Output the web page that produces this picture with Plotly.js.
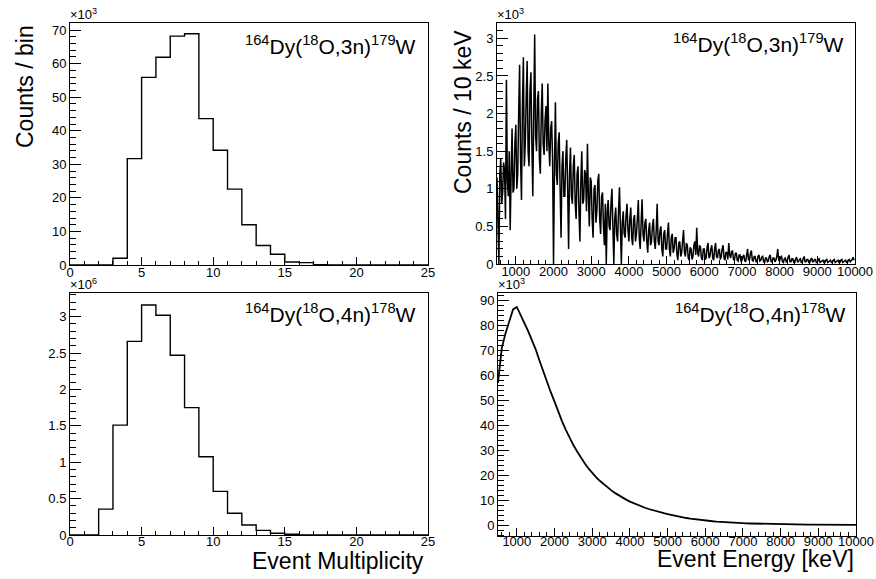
<!DOCTYPE html>
<html><head><meta charset="utf-8">
<script src="https://cdn.plot.ly/plotly-3.0.1.min.js"></script>
<style>html,body{margin:0;padding:0;background:#fff;}#chart{width:876px;height:579px;}</style>
</head><body><div id="chart"></div>
<script>
// ---- Data ----
// Event multiplicity histograms (bin i covers [i, i+1])
const mult3nCounts = [0,0,0,2.0,31.7,55.9,61.9,68.2,68.9,43.6,34.2,22.6,12.0,5.8,3.2,0.9,0.7,0.1,0.05,0,0,0,0,0,0]; // x10^3
const mult4nCounts = [0,0,0.355,1.51,2.66,3.16,3.02,2.47,1.75,1.076,0.60,0.298,0.137,0.064,0.025,0.01,0,0,0,0,0,0,0,0,0]; // x10^6

// Event energy spectra
const energy3nStart = 500, energy3nStep = 25; // keV
const energy3nCounts = [ // x10^3
 1.15,0.6,0.0,1.2,1.4,0.8,0.95,1.35,1.25,0.6,
 2.45,1.1,0.9,1.5,0.45,1.2,1.8,0.95,1.0,1.6,
 1.85,1.0,1.2,2.0,2.65,1.4,0.85,2.1,2.75,1.3,
 1.6,2.2,2.7,1.5,1.3,2.3,2.55,1.6,0.9,2.0,
 3.05,1.7,1.5,2.2,2.3,1.4,1.2,2.0,2.4,1.6,
 1.45,1.9,2.1,1.5,2.4,1.6,1.3,1.8,1.9,1.4,
 0.0,1.3,2.15,1.2,1.05,1.6,1.75,1.0,0.35,1.3,
 1.5,0.9,0.9,1.4,1.65,1.0,0.2,1.2,1.55,0.9,
 0.8,1.3,1.45,0.8,0.6,1.2,1.3,0.7,0.3,1.1,
 1.5,0.8,0.85,1.25,1.2,0.7,1.6,0.9,0.5,1.15,
 1.1,0.6,0.35,1.0,1.05,0.55,0.7,1.1,1.2,0.6,
 0.4,0.9,0.95,0.5,0.25,0.8,0.0,0.7,0.85,0.5,
 0.45,0.8,1.0,0.5,0.0,0.6,0.75,0.4,0.3,0.7,
 1.02,0.5,0.0,0.55,0.7,0.4,0.35,0.65,0.8,0.45,
 0.3,0.6,0.75,0.35,0.25,0.6,0.65,0.3,0.4,0.6,
 0.85,0.35,0.2,0.55,0.86,0.4,0.3,0.55,0.6,0.3,
 0.15,0.45,0.55,0.25,0.3,0.5,0.6,0.3,0.2,0.45,
 0.8,0.3,0.25,0.45,0.5,0.2,0.1,0.4,0.45,0.2,
 0.2,0.4,0.55,0.2,0.1,0.35,0.4,0.15,0.2,0.35,
 0.35,0.12,0.05,0.28,0.3,0.1,0.15,0.3,0.45,0.15,
 0.1,0.28,0.25,0.08,0.05,0.22,0.2,0.06,0.1,0.25,
 0.3,0.12,0.48,0.15,0.1,0.25,0.22,0.08,0.05,0.2,
 0.2,0.06,0.08,0.22,0.28,0.08,0.1,0.2,0.25,0.08,
 0.05,0.2,0.28,0.1,0.08,0.18,0.2,0.06,0.1,0.2,
 0.25,0.08,0.05,0.16,0.15,0.06,0.28,0.12,0.08,0.16,
 0.18,0.06,0.05,0.14,0.15,0.05,0.04,0.12,0.12,0.04,
 0.05,0.1,0.12,0.04,0.03,0.12,0.2,0.05,0.06,0.14,
 0.18,0.05,0.04,0.1,0.1,0.03,0.03,0.1,0.12,0.04,
 0.05,0.09,0.1,0.03,0.02,0.08,0.08,0.03,0.04,0.1,
 0.12,0.03,0.03,0.08,0.08,0.03,0.05,0.1,0.2,0.05,
 0.04,0.09,0.1,0.03,0.02,0.07,0.08,0.03,0.04,0.09,
 0.12,0.03,0.03,0.07,0.07,0.02,0.02,0.07,0.09,0.03,
 0.03,0.06,0.07,0.02,0.02,0.07,0.1,0.03,0.03,0.06,
 0.06,0.02,0.02,0.06,0.08,0.03,0.03,0.06,0.06,0.02,
 0.02,0.06,0.07,0.02,0.03,0.05,0.05,0.02,0.02,0.05,
 0.06,0.02,0.03,0.05,0.05,0.02,0.02,0.05,0.06,0.02,
 0.03,0.05,0.05,0.02,0.02,0.05,0.06,0.02,0.03,0.05,
 0.05,0.02,0.02,0.05,0.06,0.03,0.04,0.06,0.09,0.05];

const energy4nStart = 500, energy4nStep = 100; // keV
const energy4nCounts = [ // x10^3
 57,71,77,81.5,86.5,87.5,84,81,77.8,74.3,
 70.5,66,61.6,57,53.3,49.5,45.4,41.6,38.2,35.0,
 32.1,29.5,27.0,24.8,22.7,20.8,19.2,17.75,16.4,15.15,
 14.0,12.9,11.9,11.0,10.2,9.4,8.7,8.07,7.48,6.93,
 6.43,5.96,5.52,5.12,4.75,4.4,4.03,3.68,3.37,3.08,
 2.82,2.58,2.36,2.16,1.98,1.81,1.66,1.52,1.39,1.27,
 1.16,1.06,0.97,0.89,0.81,0.74,0.68,0.62,0.57,0.52,
 0.48,0.44,0.40,0.37,0.34,0.31,0.28,0.26,0.24,0.22,
 0.2,0.18,0.17,0.155,0.14,0.13,0.12,0.11,0.1,0.09,
 0.085,0.08,0.075,0.07,0.065,0.06];

const multTickVals = [0,5,10,15,20,25];
const multTickText = ['0','5','10','15','20','25'];
const energyTickVals = [1000,2000,3000,4000,5000,6000,7000,8000,9000,10000];
const energyTickText = ['1000','2000','3000','4000','5000','6000','7000','8000','9000','10000'];
const y3nMultTickVals = [0,10,20,30,40,50,60,70];
const y3nMultTickText = ['0','10','20','30','40','50','60','70'];
const y4nMultTickVals = [0,0.5,1,1.5,2,2.5,3];
const y4nMultTickText = ['0','0.5','1','1.5','2','2.5','3'];
const y3nEnTickVals = [0,0.5,1,1.5,2,2.5,3];
const y3nEnTickText = ['0','0.5','1','1.5','2','2.5','3'];
const y4nEnTickVals = [0,10,20,30,40,50,60,70,80,90];
const y4nEnTickText = ['0','10','20','30','40','50','60','70','80','90'];

const label3n = '<sup>164</sup>Dy(<sup>18</sup>O,3n)<sup>179</sup>W';
const label4n = '<sup>164</sup>Dy(<sup>18</sup>O,4n)<sup>178</sup>W';

// ---- Build traces ----
function stepTrace(vals, xa, ya){
  const x = vals.map((_,i)=>i).concat([vals.length]);
  const y = vals.concat([vals[vals.length-1]]);
  return {x, y, xaxis:xa, yaxis:ya, type:'scatter', mode:'lines',
    line:{shape:'hv', color:'#000', width:1.4}, hoverinfo:'skip', showlegend:false};
}
function specTrace(vals, start, step, xa, ya, w){
  return {x: vals.map((_,i)=>start+i*step), y: vals, xaxis:xa, yaxis:ya,
    type:'scatter', mode:'lines', line:{color:'#000', width:w}, hoverinfo:'skip', showlegend:false};
}
const traces = [
  stepTrace(mult3nCounts,'x','y'),
  specTrace(energy3nCounts, energy3nStart, energy3nStep, 'x2','y2', 1.5),
  stepTrace(mult4nCounts,'x3','y3'),
  specTrace(energy4nCounts, energy4nStart, energy4nStep, 'x4','y4', 1.8)
];

// ---- Layout ----
const W=876, H=579;
const px = v => v/W, py = v => 1 - v/H;
const FONT = 'Liberation Sans, Arial, Helvetica, sans-serif';
const tickFont = {family:FONT, size:13, color:'#000'};

function xAxis(dom, range, tv, tt, minorDt, anchor, standoff){
  return {domain:dom, range:range, anchor:anchor, tickmode:'array', tickvals:tv, ticktext:tt,
    ticks:'inside', ticklen:8, tickwidth:1, tickcolor:'#000', tickangle:0, ticklabelstandoff:standoff,
    minor:{ticks:'inside', ticklen:4, dtick:minorDt, tick0:0, tickcolor:'#000', tickwidth:1, showgrid:false},
    showline:true, linecolor:'#000', linewidth:1, mirror:true, showgrid:false, zeroline:false,
    tickfont:tickFont, fixedrange:true};
}
function yAxis(dom, range, tv, tt, minorDt, anchor){
  return {domain:dom, range:range, anchor:anchor, tickmode:'array', tickvals:tv, ticktext:tt,
    ticks:'inside', ticklen:11, tickwidth:1, tickcolor:'#000',
    minor:{ticks:'inside', ticklen:6, dtick:minorDt, tick0:0, tickcolor:'#000', tickwidth:1, showgrid:false},
    showline:true, linecolor:'#000', linewidth:1, mirror:true, showgrid:false, zeroline:false,
    tickfont:tickFont, fixedrange:true};
}

function ann(text, x, y, xa, ya, size, extra){
  return Object.assign({text, x:px(x), y:py(y), xref:'paper', yref:'paper', xanchor:xa, yanchor:ya,
    showarrow:false, font:{family:FONT, size:size, color:'#000'}}, extra||{});
}

const layout = {
  width:W, height:H, margin:{l:0,r:0,t:0,b:0}, paper_bgcolor:'#fff', plot_bgcolor:'#fff',
  showlegend:false,
  xaxis:  xAxis([px(70),px(428)], [0,25], multTickVals, multTickText, 1, 'y', -5),
  yaxis:  yAxis([py(265),py(23)], [0,72.1], y3nMultTickVals, y3nMultTickText, 2, 'x'),
  xaxis2: xAxis([px(497),px(855)], [500,10000], energyTickVals, energyTickText, 200, 'y2', -5),
  yaxis2: yAxis([py(264),py(23)], [0,3.204], y3nEnTickVals, y3nEnTickText, 0.1, 'x2'),
  xaxis3: xAxis([px(70),px(428)], [0,25], multTickVals, multTickText, 1, 'y3', -6),
  yaxis3: yAxis([py(535),py(293)], [0,3.325], y4nMultTickVals, y4nMultTickText, 0.1, 'x3'),
  xaxis4: xAxis([px(498),px(856)], [500,10000], energyTickVals, energyTickText, 200, 'y4', -7),
  yaxis4: yAxis([py(536),py(293)], [-4.4,93.1], y4nEnTickVals, y4nEnTickText, 2, 'x4'),
  annotations: [
    ann(label3n, 418, 45, 'right', 'middle', 21),
    ann(label3n, 846, 43, 'right', 'middle', 21),
    ann(label4n, 418, 313, 'right', 'middle', 21),
    ann(label4n, 848, 313, 'right', 'middle', 21),
    ann('×10<sup>3</sup>', 68, 14, 'left', 'middle', 13),
    ann('×10<sup>3</sup>', 495, 14, 'left', 'middle', 13),
    ann('×10<sup>6</sup>', 68, 284, 'left', 'middle', 13),
    ann('×10<sup>3</sup>', 496, 284, 'left', 'middle', 13),
    ann('Counts / bin', 25, 87, 'center', 'middle', 23, {textangle:-90}),
    ann('Counts / 10 keV', 463, 112, 'center', 'middle', 23, {textangle:-90}),
    ann('Event Multiplicity', 426, 561, 'right', 'middle', 23),
    ann('Event Energy [keV]', 856, 559, 'right', 'middle', 23)
  ]
};

Plotly.newPlot('chart', traces, layout, {staticPlot:true, displayModeBar:false});
</script>
</body></html>
